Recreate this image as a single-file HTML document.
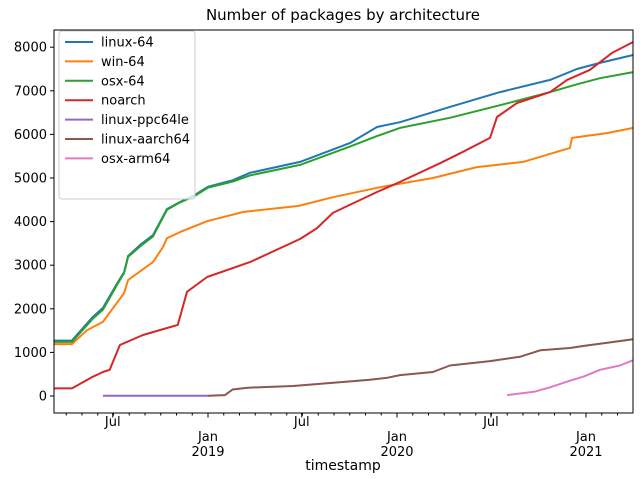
<!DOCTYPE html>
<html><head><meta charset="utf-8"><style>
html,body{margin:0;padding:0;background:#fff;}
svg{display:block;font-family:"DejaVu Sans","Liberation Sans",sans-serif;}
</style></head><body>
<svg id="chart" width="640" height="479" viewBox="0 0 640 479" xmlns="http://www.w3.org/2000/svg">
<rect x="0" y="0" width="640" height="479" fill="#fff"/>
<text x="343" y="20" text-anchor="middle" font-size="15">Number of packages by architecture</text>
<g id="series"></g>
<g id="axes"></g>
<g id="legend"></g>
<text x="343" y="470" text-anchor="middle" font-size="14">timestamp</text>
</svg>
<script>
const yTicks = [0,1000,2000,3000,4000,5000,6000,7000,8000];
const majorTicks = [2018.496, 2019.0, 2019.496, 2020.0, 2020.497, 2021.0];
const majorLabels = [["Jul"],["Jan","2019"],["Jul"],["Jan","2020"],["Jul"],["Jan","2021"]];
const seriesNames = ["linux-64","win-64","osx-64","noarch","linux-ppc64le","linux-aarch64","osx-arm64"];
const seriesColors = ["#1f77b4","#ff7f0e","#2ca02c","#d62728","#9467bd","#8c564b","#e377c2"];

const linux64T = [2018.185,2018.28,2018.39,2018.444,2018.52,2018.556,2018.577,2018.64,2018.709,2018.783,2018.852,2018.93,2019.0,2019.132,2019.222,2019.487,2019.751,2019.894,2020.016,2020.28,2020.545,2020.81,2020.952,2021.074,2021.249];
const linux64V = [1270,1270,1810,2020,2590,2840,3210,3460,3690,4290,4450,4610,4800,4950,5120,5370,5800,6170,6280,6630,6970,7250,7500,7640,7820];
const win64T = [2018.185,2018.28,2018.36,2018.444,2018.52,2018.556,2018.577,2018.709,2018.762,2018.783,2018.852,2018.995,2019.185,2019.48,2019.661,2019.91,2020.19,2020.423,2020.667,2020.915,2020.926,2021.111,2021.249];
const win64V = [1190,1190,1510,1700,2150,2360,2660,3070,3420,3620,3760,4010,4220,4360,4560,4790,5000,5250,5370,5690,5920,6030,6150];
const osx64T = [2018.185,2018.28,2018.39,2018.444,2018.52,2018.556,2018.577,2018.64,2018.709,2018.783,2018.852,2018.93,2019.0,2019.132,2019.222,2019.487,2019.751,2019.894,2020.016,2020.28,2020.545,2020.81,2020.952,2021.074,2021.249];
const osx64V = [1240,1240,1770,1980,2560,2820,3190,3430,3660,4270,4440,4590,4780,4920,5060,5300,5720,5960,6150,6380,6670,6970,7150,7290,7430];
const noarchT = [2018.185,2018.28,2018.39,2018.444,2018.48,2018.534,2018.656,2018.783,2018.84,2018.889,2018.995,2019.222,2019.487,2019.577,2019.661,2019.894,2020.016,2020.228,2020.349,2020.492,2020.529,2020.635,2020.81,2020.9,2021.02,2021.138,2021.249];
const noarchV = [175,175,440,550,600,1170,1400,1560,1630,2390,2730,3070,3600,3850,4200,4680,4910,5340,5600,5920,6400,6720,6970,7250,7480,7870,8120];
const ppcT = [2018.444,2019.0];
const ppcV = [5,5];
const aarchT = [2019.0,2019.09,2019.13,2019.21,2019.45,2019.85,2019.95,2020.016,2020.19,2020.28,2020.492,2020.65,2020.76,2020.915,2020.989,2021.074,2021.249];
const aarchV = [5,20,150,190,230,370,420,480,550,700,800,900,1050,1100,1150,1200,1300];
const armT = [2020.582,2020.73,2020.81,2020.915,2020.989,2021.074,2021.18,2021.249];
const armV = [20,100,200,350,450,600,700,820];

const tSeries = [linux64T,win64T,osx64T,noarchT,ppcT,aarchT,armT];
const vSeries = [linux64V,win64V,osx64V,noarchV,ppcV,aarchV,armV];

const L=54,R=633,T=30,B=413;
function xS(t){return 208+(t-2019)*189;}
function yS(v){return 396-v*0.0436;}
const NS="http://www.w3.org/2000/svg";
function mk(tag,attrs,parent){const e=document.createElementNS(NS,tag);for(const k in attrs)e.setAttribute(k,attrs[k]);parent.appendChild(e);return e;}

const sg=document.getElementById('series');
tSeries.forEach((ts,i)=>{
  const pts=ts.map((t,j)=>xS(t).toFixed(1)+','+yS(vSeries[i][j]).toFixed(1)).join(' ');
  const p=mk('polyline',{points:pts,fill:'none',stroke:seriesColors[i],'stroke-width':2,'stroke-linejoin':'round'},sg);
  
  
});

const ax=document.getElementById('axes');
const frame=mk('rect',{x:L,y:T,width:R-L,height:B-T,fill:'none',stroke:'#000','stroke-width':1},ax);


yTicks.forEach(v=>{
  const y=yS(v);
  mk('line',{x1:L-4,x2:L,y1:y,y2:y,stroke:'#000'},ax);
  const tx=mk('text',{x:L-7,y:y+4.5,'text-anchor':'end','font-size':13},ax);
  tx.textContent=v;
  
  
});
for(let y=2018;y<=2021;y++)for(let m=0;m<12;m++){
  const t=y+m/12; const x=xS(t);
  if(x<L||x>R)continue;
  mk('line',{x1:x,x2:x,y1:B,y2:B+2.5,stroke:'#000'},ax);
}
majorTicks.forEach((t,i)=>{
  const x=xS(t);
  mk('line',{x1:x,x2:x,y1:B,y2:B+4.5,stroke:'#000'},ax);
  const lab=majorLabels[i];
  lab.forEach((s,k)=>{
    const tx=mk('text',{x:x,y:(lab.length===1?426:441)+k*15,'text-anchor':'middle','font-size':13},ax);
    tx.textContent=s;
    
    
  });
});

const lg=document.getElementById('legend');
const box=mk('rect',{x:59,y:31,width:136,height:168,rx:3,fill:'#fff','fill-opacity':0.8,stroke:'#ccc'},lg);


seriesNames.forEach((n,i)=>{
  const y=42+i*19.4;
  const g=mk('g',{},lg);
  
  
  mk('line',{x1:65,x2:93,y1:y,y2:y,stroke:seriesColors[i],'stroke-width':2},g);
  const tx=mk('text',{x:101,y:y+4.5,'font-size':13},g);
  tx.textContent=n;
});
</script>
</body></html>
